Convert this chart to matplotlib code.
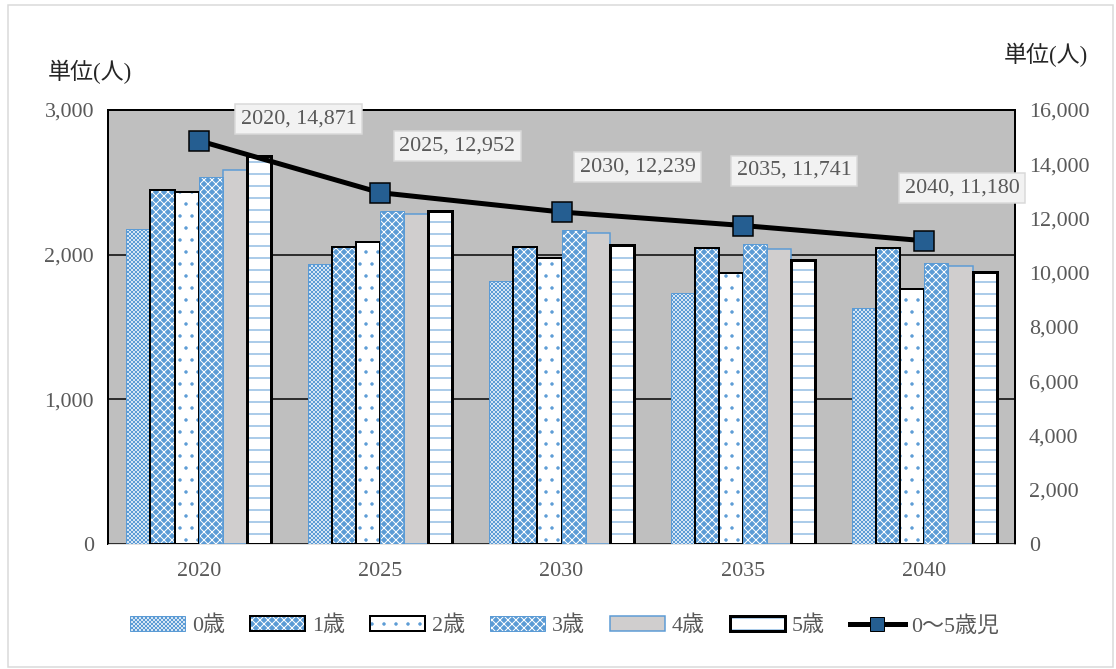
import matplotlib
matplotlib.use("Agg")
import matplotlib.pyplot as plt
import matplotlib.patches as mpatches
from matplotlib.lines import Line2D
from matplotlib.legend_handler import HandlerTuple
from matplotlib.ticker import FuncFormatter
import numpy as np

plt.rcParams.update({"font.family": ["Liberation Serif", "Noto Sans CJK JP"],
                     "font.size": 22, "hatch.linewidth": 1.0})

years = ["2020", "2025", "2030", "2035", "2040"]
ages = ["0歳", "1歳", "2歳", "3歳", "4歳", "5歳"]
# bar values per age across years
age0 = [2180, 1935, 1820, 1737, 1630]
age1 = [2450, 2050, 2055, 2048, 2048]
age2 = [2436, 2085, 1979, 1875, 1760]
age3 = [2540, 2300, 2168, 2076, 1942]
age4 = [2585, 2280, 2152, 2040, 1920]
age5 = [2680, 2302, 2065, 1965, 1880]
total = [14871, 12952, 12239, 11741, 11180]
total_label = "0～5歳児"

BLUE = "#5B9BD5"
TXT = "#595959"
# (face, hatch, hatch colour, outline colour, outline width)
styles = [
    ("white", "xxxxxx", BLUE, BLUE, 1.0),
    (BLUE, "xxx", "white", "black", 2.0),
    ("white", ".", BLUE, "black", 2.0),
    (BLUE, "xxx", "white", BLUE, 1.0),
    ("#D0CECE", "", "#D0CECE", BLUE, 1.5),
    ("white", "-", BLUE, "black", 3.0),
]
data = [age0, age1, age2, age3, age4, age5]

fig = plt.figure(figsize=(1116 / 72, 669 / 72), dpi=72)
fig.patches.append(mpatches.Rectangle((0.007, 0.003), 0.99, 0.99, transform=fig.transFigure,
                                      fill=False, ec="#D9D9D9", lw=1.5))
ax = fig.add_axes([108 / 1116, 1 - 544 / 669, 907 / 1116, 434 / 669])
ax.set_facecolor("#BFBFBF")
x = np.arange(len(years))
w = 0.133
handles = []
for i, (vals, (fc, hatch, hc, ec, lw)) in enumerate(zip(data, styles)):
    pos = x + (i - 2.5) * w
    ax.bar(pos, vals, w, color=fc, hatch=hatch, edgecolor=hc, linewidth=0, zorder=3)
    ax.bar(pos, vals, w, fill=False, edgecolor=ec, linewidth=lw, zorder=4)
    h1 = mpatches.Patch(facecolor=fc, hatch=hatch, edgecolor=hc, linewidth=0)
    h2 = mpatches.Patch(fill=False, edgecolor=ec, linewidth=lw)
    handles.append((h1, h2))

ax.set_xlim(-0.5, 4.5)
ax.set_ylim(0, 3000)
ax.set_yticks([0, 1000, 2000, 3000])
ax.yaxis.set_major_formatter(FuncFormatter(lambda v, p: f"{int(v):,}"))
ax.set_xticks(x, years)
ax.tick_params(length=0, colors=TXT, labelsize=22)
ax.tick_params(axis="y", pad=14)
ax.tick_params(axis="x", pad=18)
ax.yaxis.grid(True, color="black", lw=1.5)
ax.set_axisbelow(True)
for s in ["top", "left", "right"]:
    ax.spines[s].set_color("black")
    ax.spines[s].set_linewidth(2)
ax.spines["bottom"].set_color("#D9D9D9")

ax2 = ax.twinx()
ax2.set_ylim(0, 16000)
ax2.set_yticks(range(0, 16001, 2000))
ax2.yaxis.set_major_formatter(FuncFormatter(lambda v, p: f"{int(v):,}"))
ax2.tick_params(length=0, colors=TXT, labelsize=22, pad=14)
for s in ax2.spines.values():
    s.set_visible(False)
ax2.plot(x, total, color="black", lw=5, marker="s", ms=20, mfc="#255E91", mec="black",
         mew=1.5, zorder=5)
offsets = [(100, 22), (77, 47), (76, 45), (51, 55), (38, 53)]
for xi, (yr, v), off in zip(x, zip(years, total), offsets):
    ax2.annotate(f"{yr}, {v:,}", (xi, v), xytext=off, textcoords="offset points",
                 ha="center", va="center", color=TXT, fontsize=22,
                 bbox=dict(boxstyle="square,pad=0.25", fc="#F2F2F2", ec="#D9D9D9", lw=1.5))

fig.text(90 / 1116, 1 - 72 / 669, "単位(人)", ha="center", va="center", fontsize=23, color="#262626")
fig.text(1046 / 1116, 1 - 55 / 669, "単位(人)", ha="center", va="center", fontsize=23, color="#262626")

handles.append(Line2D([], [], color="black", lw=5, marker="s", ms=14, mfc="#255E91", mec="black"))
fig.legend(handles, ages + [total_label], loc="center", bbox_to_anchor=(565 / 1116, 1 - 626 / 669),
           ncol=7, frameon=False, handlelength=2.5, handleheight=0.7, handletextpad=0.3,
           columnspacing=1.15, labelcolor=TXT, fontsize=22,
           handler_map={tuple: HandlerTuple(ndivide=1)})

fig.savefig("out.png", dpi=72, facecolor="white")
